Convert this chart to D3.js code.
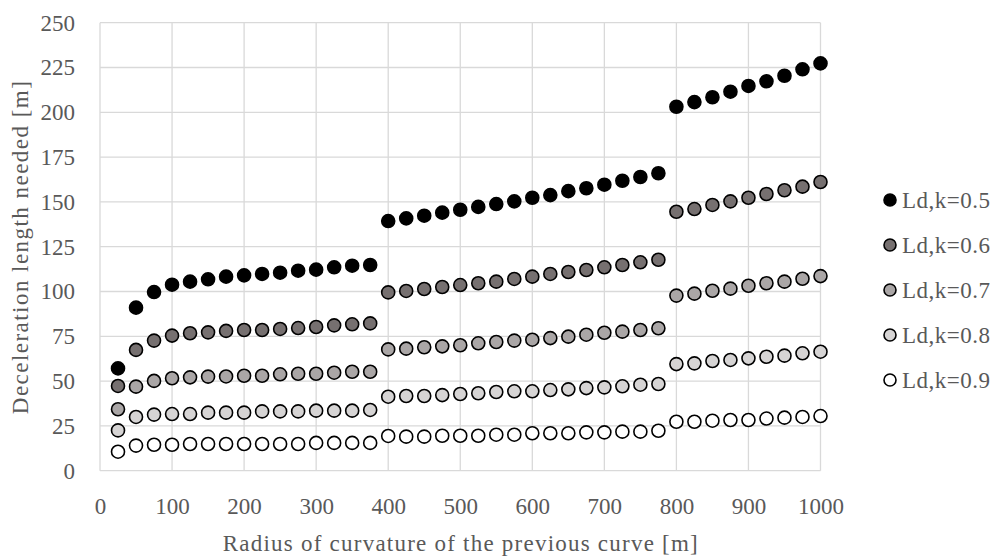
<!DOCTYPE html>
<html>
<head>
<meta charset="utf-8">
<script src="https://cdn.jsdelivr.net/npm/d3@7"></script>
<style>
  html, body { margin: 0; padding: 0; background: #fff; }
  svg { display: block; }
  text { font-family: "Liberation Serif", "DejaVu Serif", serif; fill: #595959; }
</style>
</head>
<body>
<svg id="chart" width="995" height="556"></svg>
<script>
// Radius of the previous curve [m]
const radius = [25, 50, 75, 100, 125, 150, 175, 200, 225, 250, 275, 300, 325, 350, 375,
  400, 425, 450, 475, 500, 525, 550, 575, 600, 625, 650, 675, 700, 725, 750, 775,
  800, 825, 850, 875, 900, 925, 950, 975, 1000];

// Deceleration length needed [m] for each friction factor k
const ldK05 = [57.1, 91.0, 99.7, 103.8, 105.5, 106.8, 108.3, 109.0, 109.8, 110.5, 111.6, 112.2, 113.5, 114.4, 114.8,
  139.3, 140.8, 142.3, 144.0, 145.6, 147.2, 148.8, 150.3, 152.3, 153.8, 156.0, 157.6, 159.6, 161.8, 163.9, 166.0,
  203.1, 205.7, 208.4, 211.5, 214.7, 217.3, 220.4, 224.0, 227.3];
const ldK06 = [47.3, 67.4, 72.6, 75.4, 76.7, 77.2, 78.0, 78.5, 78.5, 79.1, 79.6, 80.2, 81.1, 81.7, 82.2,
  99.5, 100.3, 101.4, 102.5, 103.6, 104.6, 105.5, 107.0, 108.3, 109.8, 110.9, 112.0, 113.5, 114.8, 116.3, 117.7,
  144.5, 146.0, 148.3, 150.3, 152.3, 154.4, 156.5, 158.5, 161.1];
const ldK07 = [34.3, 46.9, 50.1, 51.6, 52.1, 52.5, 52.6, 53.0, 53.0, 53.8, 54.1, 54.1, 54.7, 55.2, 55.2,
  67.7, 68.1, 68.9, 69.4, 70.0, 71.1, 71.8, 72.6, 73.1, 74.0, 74.8, 75.9, 77.0, 77.6, 78.5, 79.5,
  97.7, 98.8, 100.4, 101.6, 103.2, 104.6, 105.5, 107.1, 108.6];
const ldK08 = [22.5, 30.0, 31.3, 31.6, 31.6, 32.4, 32.4, 32.4, 33.1, 33.1, 33.1, 33.5, 33.5, 33.5, 33.9,
  41.3, 41.7, 41.7, 42.2, 42.8, 43.2, 43.9, 44.3, 44.3, 45.0, 45.4, 46.1, 46.5, 47.1, 48.0, 48.4,
  59.5, 59.9, 61.2, 61.8, 62.7, 63.6, 64.2, 65.5, 66.4];
const ldK09 = [10.6, 14.0, 14.5, 14.5, 14.9, 14.9, 14.9, 14.9, 14.9, 14.9, 14.9, 15.5, 15.5, 15.5, 15.5,
  19.4, 19.0, 19.0, 19.5, 19.5, 19.5, 20.1, 20.1, 20.9, 20.9, 20.9, 21.4, 21.4, 21.8, 21.8, 22.3,
  27.3, 27.3, 27.9, 28.3, 28.3, 29.1, 29.6, 30.0, 30.5];

const seriesNames = ["Ld,k=0.5", "Ld,k=0.6", "Ld,k=0.7", "Ld,k=0.8", "Ld,k=0.9"];
const seriesValues = [ldK05, ldK06, ldK07, ldK08, ldK09];
const seriesFill = ["#000000", "#767070", "#aaa6a6", "#d6d4d4", "#ffffff"];

const xTicks = [0, 100, 200, 300, 400, 500, 600, 700, 800, 900, 1000];
const yTicks = [0, 25, 50, 75, 100, 125, 150, 175, 200, 225, 250];

const svg = d3.select("#chart");
const plot = { left: 100, right: 820.5, top: 22.7, bottom: 470.7 };
const fontSize = "23px";

const x = d3.scaleLinear().domain([0, 1000]).range([plot.left, plot.right]);
const y = d3.scaleLinear().domain([0, 250]).range([plot.bottom, plot.top]);

// Gridlines
const grid = svg.append("g");
grid.selectAll("line.v").data(xTicks).join("line")
  .attr("x1", d => x(d)).attr("x2", d => x(d))
  .attr("y1", plot.top).attr("y2", plot.bottom)
  .attr("stroke", "#d9d9d9").attr("stroke-width", 1.3);
grid.selectAll("line.h").data(yTicks).join("line")
  .attr("x1", plot.left).attr("x2", plot.right)
  .attr("y1", d => y(d)).attr("y2", d => y(d))
  .attr("stroke", "#d9d9d9").attr("stroke-width", 1.3);

// Axes (labels only; lines come from the grid)
const xAxis = svg.append("g")
  .attr("transform", `translate(0,${plot.bottom})`)
  .call(d3.axisBottom(x).tickValues(xTicks).tickFormat(d3.format("d")).tickSize(0).tickPadding(27));
const yAxis = svg.append("g")
  .attr("transform", `translate(${plot.left},0)`)
  .call(d3.axisLeft(y).tickValues(yTicks).tickFormat(d3.format("d")).tickSize(0).tickPadding(25));
[xAxis, yAxis].forEach(a => {
  a.select(".domain").remove();
  a.selectAll("text")
    .style("font-family", "'Liberation Serif', serif")
    .style("font-size", fontSize)
    .attr("fill", "#595959");
});

// Axis titles
svg.append("text")
  .attr("x", (plot.left + plot.right) / 2).attr("y", 551)
  .attr("text-anchor", "middle")
  .attr("textLength", 475).attr("lengthAdjust", "spacing")
  .style("font-size", fontSize)
  .text("Radius of curvature of the previous curve [m]");
svg.append("text")
  .attr("transform", `translate(28,${(plot.top + plot.bottom) / 2 + 1}) rotate(-90)`)
  .attr("text-anchor", "middle")
  .attr("textLength", 333).attr("lengthAdjust", "spacing")
  .style("font-size", fontSize)
  .text("Deceleration length needed [m]");

// Points
seriesValues.forEach((vals, i) => {
  svg.append("g").selectAll("circle")
    .data(radius.map((r, j) => [r, vals[j]]))
    .join("circle")
    .attr("cx", d => x(d[0]))
    .attr("cy", d => y(d[1]))
    .attr("r", 6.5)
    .attr("fill", seriesFill[i])
    .attr("stroke", "#000")
    .attr("stroke-width", 1.6);
});

// Legend
const legend = svg.append("g").attr("transform", "translate(890,200)");
seriesNames.forEach((name, i) => {
  const row = legend.append("g").attr("transform", `translate(0,${i * 45})`);
  row.append("circle").attr("r", 6).attr("fill", seriesFill[i])
    .attr("stroke", "#000").attr("stroke-width", 1.6);
  row.append("text").attr("x", 12).attr("y", 7.5)
    .attr("textLength", 88).attr("lengthAdjust", "spacing")
    .style("font-size", fontSize).text(name);
});
</script>
</body>
</html>
